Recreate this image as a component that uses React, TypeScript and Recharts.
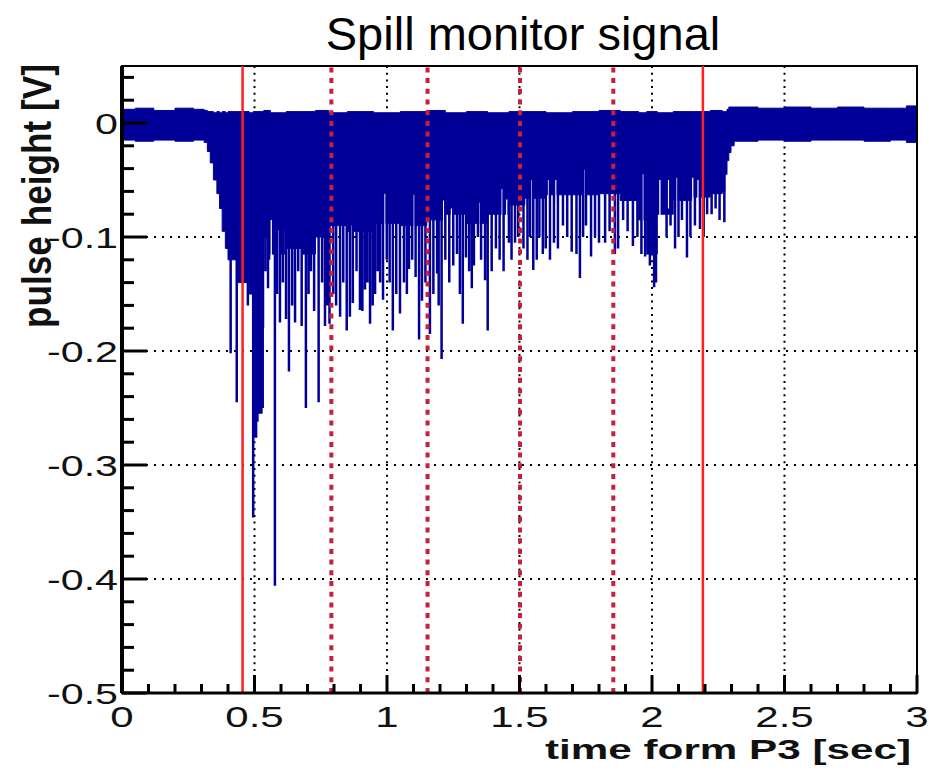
import {
  ComposedChart,
  Area,
  Line,
  XAxis,
  YAxis,
  CartesianGrid,
  ReferenceLine,
  ReferenceArea,
  Label,
} from 'recharts';

// Signal envelope (per-bin low / high of the pulse height, in V) vs time [s]
const envT = [0, 0.05, 0.12, 0.2, 0.27, 0.31, 0.322, 0.333, 0.345, 0.358, 0.368, 0.378, 0.39, 0.4, 0.435, 0.48, 0.495, 0.535, 0.56, 0.62, 0.68, 0.73, 0.78, 0.85, 0.95, 1.05, 1.15, 1.22, 1.3, 1.38, 1.46, 1.52, 1.6, 1.7, 1.8, 1.88, 1.95, 1.98, 2.02, 2.08, 2.15, 2.22, 2.265, 2.275, 2.283, 2.29, 2.298, 2.31, 2.4, 2.5, 2.6, 2.7, 2.8, 2.9, 2.96, 3.0];
const envLo = [-0.015, -0.016, -0.015, -0.016, -0.015, -0.017, -0.025, -0.035, -0.05, -0.062, -0.075, -0.095, -0.11, -0.12, -0.14, -0.15, -0.18, -0.1, -0.115, -0.11, -0.115, -0.1, -0.09, -0.095, -0.088, -0.09, -0.085, -0.08, -0.088, -0.08, -0.072, -0.066, -0.063, -0.063, -0.062, -0.068, -0.085, -0.115, -0.08, -0.068, -0.065, -0.062, -0.06, -0.045, -0.033, -0.026, -0.02, -0.016, -0.015, -0.016, -0.015, -0.015, -0.016, -0.015, -0.017, -0.015];
const envHi = [0.012, 0.013, 0.011, 0.013, 0.012, 0.011, 0.01, 0.01, 0.009, 0.01, 0.009, 0.01, 0.009, 0.01, 0.01, 0.009, 0.01, 0.011, 0.009, 0.01, 0.01, 0.011, 0.009, 0.01, 0.009, 0.01, 0.011, 0.009, 0.01, 0.009, 0.01, 0.01, 0.009, 0.01, 0.011, 0.01, 0.009, 0.01, 0.009, 0.01, 0.01, 0.011, 0.01, 0.01, 0.012, 0.014, 0.014, 0.014, 0.013, 0.014, 0.013, 0.014, 0.013, 0.013, 0.015, 0.016];

// Individual pulses reaching below the envelope
const spikeT = [0.41, 0.433, 0.475, 0.495, 0.5, 0.506, 0.511, 0.516, 0.521, 0.526, 0.531, 0.541, 0.551, 0.555, 0.577, 0.585, 0.596, 0.607, 0.619, 0.63, 0.642, 0.653, 0.665, 0.678, 0.694, 0.704, 0.713, 0.725, 0.742, 0.755, 0.766, 0.775, 0.783, 0.797, 0.808, 0.823, 0.835, 0.848, 0.86, 0.871, 0.885, 0.898, 0.907, 0.917, 0.926, 0.936, 0.946, 0.955, 0.965, 0.974, 0.985, 0.999, 1.01, 1.022, 1.035, 1.049, 1.064, 1.075, 1.083, 1.095, 1.108, 1.121, 1.132, 1.145, 1.162, 1.175, 1.189, 1.195, 1.206, 1.22, 1.235, 1.25, 1.264, 1.275, 1.286, 1.298, 1.31, 1.32, 1.328, 1.343, 1.355, 1.37, 1.38, 1.395, 1.411, 1.425, 1.44, 1.46, 1.47, 1.483, 1.495, 1.515, 1.53, 1.54, 1.552, 1.565, 1.575, 1.588, 1.599, 1.615, 1.63, 1.645, 1.664, 1.68, 1.697, 1.715, 1.728, 1.74, 1.751, 1.77, 1.785, 1.8, 1.823, 1.84, 1.86, 1.872, 1.891, 1.908, 1.928, 1.945, 1.96, 1.974, 1.992, 2.008, 2.015, 2.038, 2.055, 2.07, 2.087, 2.1, 2.113, 2.132, 2.145, 2.162, 2.181, 2.195, 2.208, 2.225, 2.24, 2.255, 2.273];
const spikeMin = [-0.202, -0.245, -0.16, -0.346, -0.276, -0.276, -0.262, -0.255, -0.255, -0.255, -0.25, -0.13, -0.145, -0.12, -0.406, -0.15, -0.175, -0.14, -0.172, -0.218, -0.16, -0.175, -0.13, -0.178, -0.25, -0.15, -0.13, -0.165, -0.245, -0.14, -0.178, -0.16, -0.176, -0.15, -0.16, -0.17, -0.14, -0.182, -0.17, -0.158, -0.13, -0.164, -0.165, -0.146, -0.14, -0.176, -0.16, -0.15, -0.13, -0.14, -0.155, -0.12, -0.14, -0.182, -0.15, -0.167, -0.14, -0.15, -0.128, -0.12, -0.135, -0.19, -0.156, -0.14, -0.185, -0.15, -0.132, -0.16, -0.207, -0.12, -0.14, -0.125, -0.115, -0.15, -0.176, -0.118, -0.13, -0.145, -0.125, -0.1, -0.12, -0.138, -0.182, -0.13, -0.11, -0.12, -0.13, -0.105, -0.12, -0.105, -0.1, -0.11, -0.12, -0.1, -0.129, -0.12, -0.1, -0.115, -0.11, -0.12, -0.105, -0.11, -0.09, -0.1, -0.113, -0.115, -0.136, -0.1, -0.09, -0.117, -0.1, -0.105, -0.105, -0.095, -0.115, -0.11, -0.085, -0.095, -0.108, -0.1, -0.115, -0.117, -0.125, -0.144, -0.14, -0.08, -0.1, -0.09, -0.11, -0.1, -0.085, -0.118, -0.1, -0.09, -0.093, -0.1, -0.08, -0.08, -0.075, -0.085, -0.087];

// Quiet bins: thin gaps in the filled region (top / bottom of each gap)
const gapT = [0.563, 0.59, 0.609, 0.709, 0.835, 0.867, 0.917, 0.992, 1.102, 1.214, 1.243, 1.351, 1.435, 1.452, 1.544, 1.61, 1.637, 1.746, 1.965, 2.03, 2.062, 2.094, 2.154, 2.174];
const gapTop = [-0.085, -0.094, -0.094, -0.077, -0.072, -0.09, -0.085, -0.062, -0.063, -0.068, -0.075, -0.07, -0.058, -0.067, -0.05, -0.05, -0.05, -0.041, -0.045, -0.05, -0.05, -0.048, -0.048, -0.05];
const gapBottom = [-0.12, -0.12, -0.12, -0.12, -0.1, -0.1, -0.1, -0.095, -0.095, -0.09, -0.09, -0.095, -0.085, -0.085, -0.075, -0.07, -0.07, -0.07, -0.09, -0.085, -0.075, -0.075, -0.07, -0.07];

// Markers
const spillEdges = [0.455, 2.192];
const cutLines = [0.79, 1.153, 1.502, 1.854];

// Axis ticks
const xTicks = [0, 0.1, 0.2, 0.3, 0.4, 0.5, 0.6, 0.7, 0.8, 0.9, 1, 1.1, 1.2, 1.3, 1.4, 1.5, 1.6, 1.7, 1.8, 1.9, 2, 2.1, 2.2, 2.3, 2.4, 2.5, 2.6, 2.7, 2.8, 2.9, 3];
const yTicks = [-0.5, -0.48, -0.46, -0.44, -0.42, -0.4, -0.38, -0.36, -0.34, -0.32, -0.3, -0.28, -0.26, -0.24, -0.22, -0.2, -0.18, -0.16, -0.14, -0.12, -0.1, -0.08, -0.06, -0.04, -0.02, 0, 0.02, 0.04];
const gridX = [0.5, 1, 1.5, 2, 2.5];
const gridY = [-0.4, -0.3, -0.2, -0.1, 0];

const BLUE = '#000099';
const FONT = '"Liberation Sans", Arial, Helvetica, sans-serif';

const envData = envT.map((t, i) => ({ t, lo: envLo[i], hi: envHi[i] }));
// each pulse: down from the baseline to its minimum and back
const spikeData = spikeT.flatMap((t, i) => [
  { t, v: 0 },
  { t, v: spikeMin[i] },
  { t, v: 0 },
]);
// separate segments, broken by nulls
const gapData = gapT.flatMap((t, i) => [
  { t, v: gapBottom[i] },
  { t, v: gapTop[i] },
  { t, v: null },
]);

const isMultiple = (v: number, step: number) => Math.abs(v / step - Math.round(v / step)) < 1e-6;

function XTick(props: any) {
  const { x, y, payload } = props;
  const major = isMultiple(payload.value, 0.5);
  return (
    <g>
      <line x1={x} x2={x} y1={y} y2={y - (major ? 18 : 9)} stroke="#000" strokeWidth={3} />
      {major && (
        <text
          transform={`translate(${x},${y + 34}) scale(1.4,1)`}
          textAnchor="middle"
          fontSize={30}
          fontFamily={FONT}
          fill="#111"
        >
          {String(payload.value)}
        </text>
      )}
    </g>
  );
}

function YTick(props: any) {
  const { x, y, payload } = props;
  const major = isMultiple(payload.value, 0.1);
  return (
    <g>
      <line x1={x} x2={x + (major ? 25 : 12)} y1={y} y2={y} stroke="#000" strokeWidth={3} />
      {major && (
        <text
          transform={`translate(${x - 4},${y + 10.5}) scale(1.42,1)`}
          textAnchor="end"
          fontSize={29}
          fontFamily={FONT}
          fill="#111"
        >
          {String(Math.round(payload.value * 10) / 10)}
        </text>
      )}
    </g>
  );
}

export default function App() {
  return (
    <div style={{ position: 'absolute', left: 0, top: 0, width: 929, height: 772, background: '#fff' }}>
      <div
        style={{
          position: 'absolute',
          left: 223,
          top: 10,
          width: 600,
          textAlign: 'center',
          fontFamily: FONT,
          fontSize: 47,
          lineHeight: '47px',
          color: '#000',
        }}
      >
        Spill monitor signal
      </div>
      <ComposedChart width={929} height={772} margin={{ top: 66, right: 12, bottom: 39, left: 62 }}>
        <CartesianGrid
          vertical={false}
          horizontalValues={gridY}
          stroke="#000"
          strokeWidth={2}
          strokeDasharray="2 6"
        />
        <CartesianGrid
          horizontal={false}
          verticalValues={gridX}
          stroke="#000"
          strokeWidth={2}
          strokeDasharray="2 4.7"
        />
        <Area
          data={envData}
          dataKey={(d: any) => [d.lo, d.hi]}
          type="stepAfter"
          stroke={BLUE}
          strokeWidth={1}
          fill={BLUE}
          fillOpacity={1}
          isAnimationActive={false}
        />
        <Line
          data={gapData}
          dataKey="v"
          type="linear"
          stroke="#f4f4fa"
          strokeWidth={1.5}
          dot={false}
          activeDot={false}
          isAnimationActive={false}
        />
        <Line
          data={spikeData}
          dataKey="v"
          type="linear"
          stroke={BLUE}
          strokeWidth={2.5}
          dot={false}
          activeDot={false}
          isAnimationActive={false}
        />
        {cutLines.map((t) => (
          <ReferenceLine key={`c${t}`} x={t} stroke="#c8203c" strokeWidth={4} strokeDasharray="5 5.7" />
        ))}
        {spillEdges.map((t) => (
          <ReferenceLine key={`s${t}`} x={t} stroke="#ff1f1f" strokeWidth={2.5} />
        ))}
        <ReferenceArea x1={0} x2={3} y1={-0.5} y2={0.05} fill="none" stroke="#000" strokeWidth={2} />
        <XAxis
          dataKey="t"
          type="number"
          domain={[0, 3]}
          ticks={xTicks}
          interval={0}
          allowDataOverflow
          height={40}
          tickSize={0}
          tickMargin={0}
          tickLine={false}
          tick={<XTick />}
          axisLine={{ stroke: '#000', strokeWidth: 3 }}
        >
          <Label
            content={() => (
              <text
                x={911}
                y={759}
                textAnchor="end"
                fontSize={28}
                fontWeight="bold"
                fontFamily={FONT}
                textLength={366}
                lengthAdjust="spacingAndGlyphs"
                fill="#111"
              >
                time form P3 [sec]
              </text>
            )}
          />
        </XAxis>
        <YAxis
          type="number"
          domain={[-0.5, 0.05]}
          ticks={yTicks}
          interval={0}
          allowDataOverflow
          width={60}
          tickSize={0}
          tickMargin={0}
          tickLine={false}
          tick={<YTick />}
          axisLine={{ stroke: '#000', strokeWidth: 4 }}
        >
          <Label
            content={() => (
              <g transform="translate(51,196) scale(1.42,1) rotate(-90)">
                <text
                  x={0}
                  y={0}
                  textAnchor="middle"
                  fontSize={29}
                  fontWeight="bold"
                  fontFamily={FONT}
                  textLength={264}
                  lengthAdjust="spacingAndGlyphs"
                  fill="#111"
                >
                  pulse height [V]
                </text>
              </g>
            )}
          />
        </YAxis>
      </ComposedChart>
    </div>
  );
}
